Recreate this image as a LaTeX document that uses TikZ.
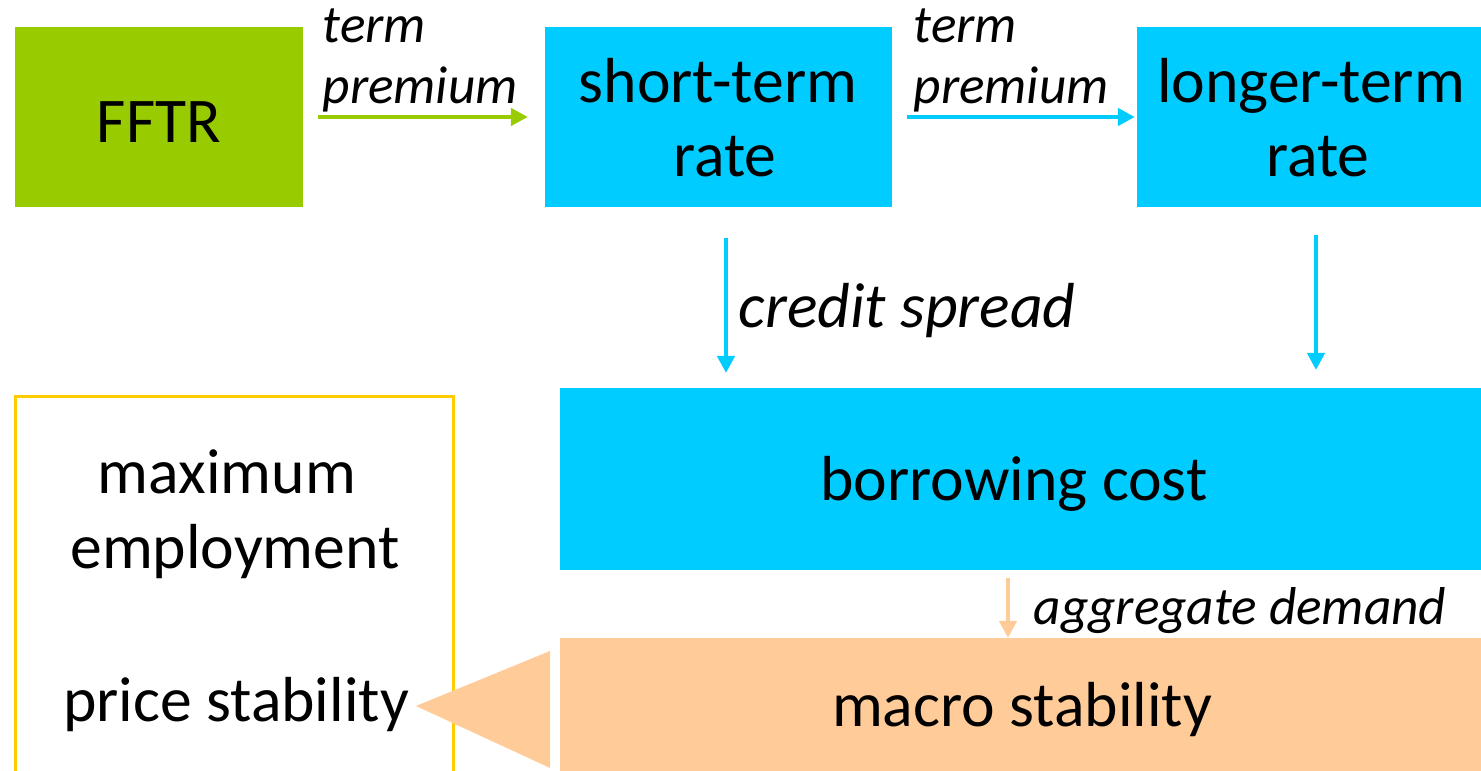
\documentclass[tikz,border=0pt]{standalone}
\usepackage{fontspec}
\setmainfont{Carlito}
\usetikzlibrary{arrows.meta}
\definecolor{cgreen}{HTML}{99CC00}
\definecolor{cblue}{HTML}{00CCFF}
\definecolor{corange}{HTML}{FFCC99}
\definecolor{cyellow}{HTML}{FFCC00}
\tikzset{
  box/.style={rectangle, inner sep=0pt, outer sep=0pt, draw=none},
  big/.style={inner sep=0pt, anchor=base, font=\fontsize{18.1}{21}\selectfont},
  lab/.style={inner sep=0pt, anchor=base west, font=\fontsize{15.15}{17}\selectfont\itshape},
  midlab/.style={inner sep=0pt, anchor=base west, font=\fontsize{18.1}{21}\selectfont\itshape},
  conn/.style={line width=0.045cm, -{Triangle[length=0.17cm, width=0.17cm]}},
}
\begin{document}
\begin{tikzpicture}[x=0.01cm, y=-0.01cm]
\useasboundingbox (0,0) rectangle (1481,771);
% boxes
\node[box, fill=cgreen, minimum width=2.88cm, minimum height=1.80cm] (fftr) at (159,117) {};
\node[box, fill=cblue, minimum width=3.47cm, minimum height=1.80cm] (short) at (718.5,117) {};
\node[box, fill=cblue, minimum width=3.44cm, minimum height=1.80cm] (longer) at (1309,117) {};
\node[box, fill=cblue, minimum width=9.21cm, minimum height=1.82cm] (borrow) at (1020.5,479) {};
\node[box, fill=corange, minimum width=9.21cm, minimum height=1.33cm] (macro) at (1020.5,704.5) {};
% goals frame (open at the bottom edge of the picture)
\draw[cyellow, line width=0.036cm] (15.5,775) -- (15.5,396.5) -- (453.5,396.5) -- (453.5,775);
% box texts
\node[big] (tfftr) at (159,143) {FFTR};
\node[big] (tshort1) at (718,103) {short-term};
\node[big] (tshort2) at (725,177) {rate};
\node[big] (tlong1) at (1311,103) {longer-term};
\node[big] (tlong2) at (1318,177) {rate};
\node[big] (tborrow) at (1014,501) {borrowing cost};
\node[big] (tmacro) at (1022,727) {macro stability};
\node[big] (tmax) at (227,494) {maximum};
\node[big] (temp) at (235,569) {employment};
\node[big] (tprice) at (236,722) {price stability};
% connector labels
\node[lab] (l1a) at (322,43) {term};
\node[lab] (l1b) at (322,104) {premium};
\node[lab] (l2a) at (913,43) {term};
\node[lab] (l2b) at (913,104) {premium};
\node[midlab] (l3) at (738,328) {credit spread};
\node[lab] (l4) at (1033,625) {aggregate demand};
% connectors
\draw[conn, cgreen] ([xshift=0.15cm]fftr.east) -- ([xshift=-0.17cm]short.west);
\draw[conn, cblue] ([xshift=0.15cm]short.east) -- ([xshift=-0.02cm]longer.west);
\coordinate (s1) at (726,238);
\coordinate (e1) at (726,373);
\draw[conn, cblue] (s1) -- (e1);
\coordinate (s2) at (1316,235);
\coordinate (e2) at (1316,370);
\draw[conn, cblue] (s2) -- (e2);
\coordinate (s3) at (1008,578);
\draw[conn, corange] (s3) -- (s3 |- macro.north);
% big arrowhead from macro stability to the goals
\coordinate (tip) at (416,706);
\fill[corange] (tip) -- (550,651) -- (550,768) -- cycle;
\end{tikzpicture}
\end{document}
